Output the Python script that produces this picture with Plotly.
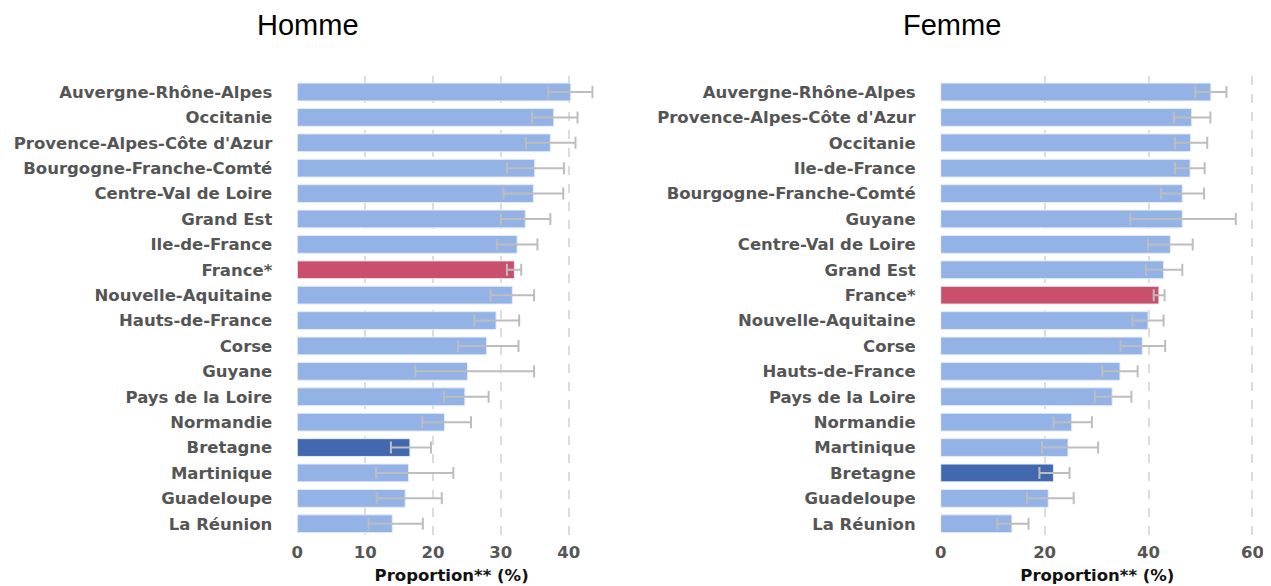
import plotly.graph_objects as go

# ---- Data ----
homme_regions = ["Auvergne-Rhône-Alpes", "Occitanie", "Provence-Alpes-Côte d'Azur",
                 "Bourgogne-Franche-Comté", "Centre-Val de Loire", "Grand Est",
                 "Ile-de-France", "France*", "Nouvelle-Aquitaine", "Hauts-de-France",
                 "Corse", "Guyane", "Pays de la Loire", "Normandie", "Bretagne",
                 "Martinique", "Guadeloupe", "La Réunion"]
homme_values = [40.3, 37.8, 37.3, 35.0, 34.8, 33.6, 32.4, 32.0, 31.7, 29.3,
                27.9, 25.1, 24.7, 21.7, 16.6, 16.4, 15.9, 14.0]
homme_low = [37.0, 34.6, 33.7, 30.9, 30.4, 30.0, 29.4, 30.9, 28.5, 26.1,
             23.7, 17.4, 21.6, 18.4, 13.8, 11.6, 11.7, 10.5]
homme_high = [43.5, 41.3, 41.0, 39.3, 39.2, 37.3, 35.4, 33.0, 34.9, 32.7,
              32.6, 34.9, 28.2, 25.6, 19.7, 23.0, 21.3, 18.5]

femme_regions = ["Auvergne-Rhône-Alpes", "Provence-Alpes-Côte d'Azur", "Occitanie",
                 "Ile-de-France", "Bourgogne-Franche-Comté", "Guyane",
                 "Centre-Val de Loire", "Grand Est", "France*", "Nouvelle-Aquitaine",
                 "Corse", "Hauts-de-France", "Pays de la Loire", "Normandie",
                 "Martinique", "Bretagne", "Guadeloupe", "La Réunion"]
femme_values = [52.0, 48.3, 48.1, 48.0, 46.5, 46.5, 44.2, 42.9, 42.0, 39.9,
                38.8, 34.5, 33.0, 25.2, 24.5, 21.7, 20.7, 13.7]
femme_low = [49.0, 44.9, 45.1, 45.1, 42.4, 36.5, 39.9, 39.5, 41.0, 36.9,
             34.6, 31.1, 29.7, 21.7, 19.5, 19.0, 16.6, 10.9]
femme_high = [55.0, 51.9, 51.3, 50.8, 50.7, 56.8, 48.5, 46.5, 43.1, 42.9,
              43.2, 37.9, 36.7, 29.1, 30.3, 24.8, 25.6, 16.9]

panel_titles = ["Homme", "Femme"]
axis_title = "Proportion** (%)"

# ---- Styles ----
C_DEFAULT = "#93b2e6"
C_FRANCE = "#c94f6d"
C_BRETAGNE = "#4268b0"


def colors_for(regions):
    out = []
    for r in regions:
        if r == "France*":
            out.append(C_FRANCE)
        elif r == "Bretagne":
            out.append(C_BRETAGNE)
        else:
            out.append(C_DEFAULT)
    return out


fig = go.Figure()

panels = [
    (homme_regions, homme_values, homme_low, homme_high, "x", "y"),
    (femme_regions, femme_values, femme_low, femme_high, "x2", "y2"),
]
for regions, vals, lo, hi, xa, ya in panels:
    fig.add_trace(go.Bar(
        y=regions, x=vals, orientation="h",
        xaxis=xa, yaxis=ya,
        width=0.7,
        marker=dict(color=colors_for(regions), line=dict(color="#e6ebf2", width=1)),
        error_x=dict(type="data", symmetric=False,
                     array=[h - v for h, v in zip(hi, vals)],
                     arrayminus=[v - l for v, l in zip(vals, lo)],
                     color="#bdbdbd", thickness=2, width=6),
        showlegend=False,
        hoverinfo="x+y",
    ))

# page body has an 8px margin: work in figure coordinates = screen - 8
OFF = 8
W, H = 1271 - OFF, 586 - OFF
y_top, y_bot = 76 - OFF, 540 - OFF
ydom = [1 - y_bot / H, 1 - y_top / H]

tickfont = dict(family="DejaVu Sans", size=16.5, color="#555555", weight="bold")
titlefont = dict(family="DejaVu Sans", size=16.5, color="#111111", weight="bold")

xcommon = dict(showgrid=True, gridcolor="#dcdcdc", gridwidth=2, griddash="dash",
               zeroline=False, showline=False, ticks="", tickfont=tickfont,
               automargin=False,
               title=dict(text=axis_title, font=titlefont, standoff=8))
ycommon = dict(showgrid=False, zeroline=False, showline=False, ticks="",
               automargin=False,
               range=[17.64, -0.63], tickfont=tickfont, ticklabelstandoff=24)

fig.update_layout(
    width=W, height=H,
    margin=dict(l=0, r=0, t=0, b=0),
    plot_bgcolor="white", paper_bgcolor="white",
    bargap=0.3,
    xaxis=dict(domain=[(297.3 - OFF) / W, (606 - OFF) / W], range=[0, 45.5], dtick=10,
               anchor="y", **xcommon),
    yaxis=dict(domain=ydom, anchor="x", categoryorder="array",
               categoryarray=homme_regions, **ycommon),
    xaxis2=dict(domain=[(940.7 - OFF) / W, (1254 - OFF) / W], range=[0, 60.3], dtick=20,
                anchor="y2", **xcommon),
    yaxis2=dict(domain=ydom, anchor="x2", categoryorder="array",
                categoryarray=femme_regions, **ycommon),
    annotations=[
        dict(text=panel_titles[0], x=(308 - OFF) / W, y=1 - (25 - OFF) / H,
             xref="paper", yref="paper",
             showarrow=False, xanchor="center", yanchor="middle",
             font=dict(family="Liberation Sans", size=29, color="#000000")),
        dict(text=panel_titles[1], x=(952 - OFF) / W, y=1 - (25 - OFF) / H,
             xref="paper", yref="paper",
             showarrow=False, xanchor="center", yanchor="middle",
             font=dict(family="Liberation Sans", size=29, color="#000000")),
    ],
)

fig.write_html("out.html")
